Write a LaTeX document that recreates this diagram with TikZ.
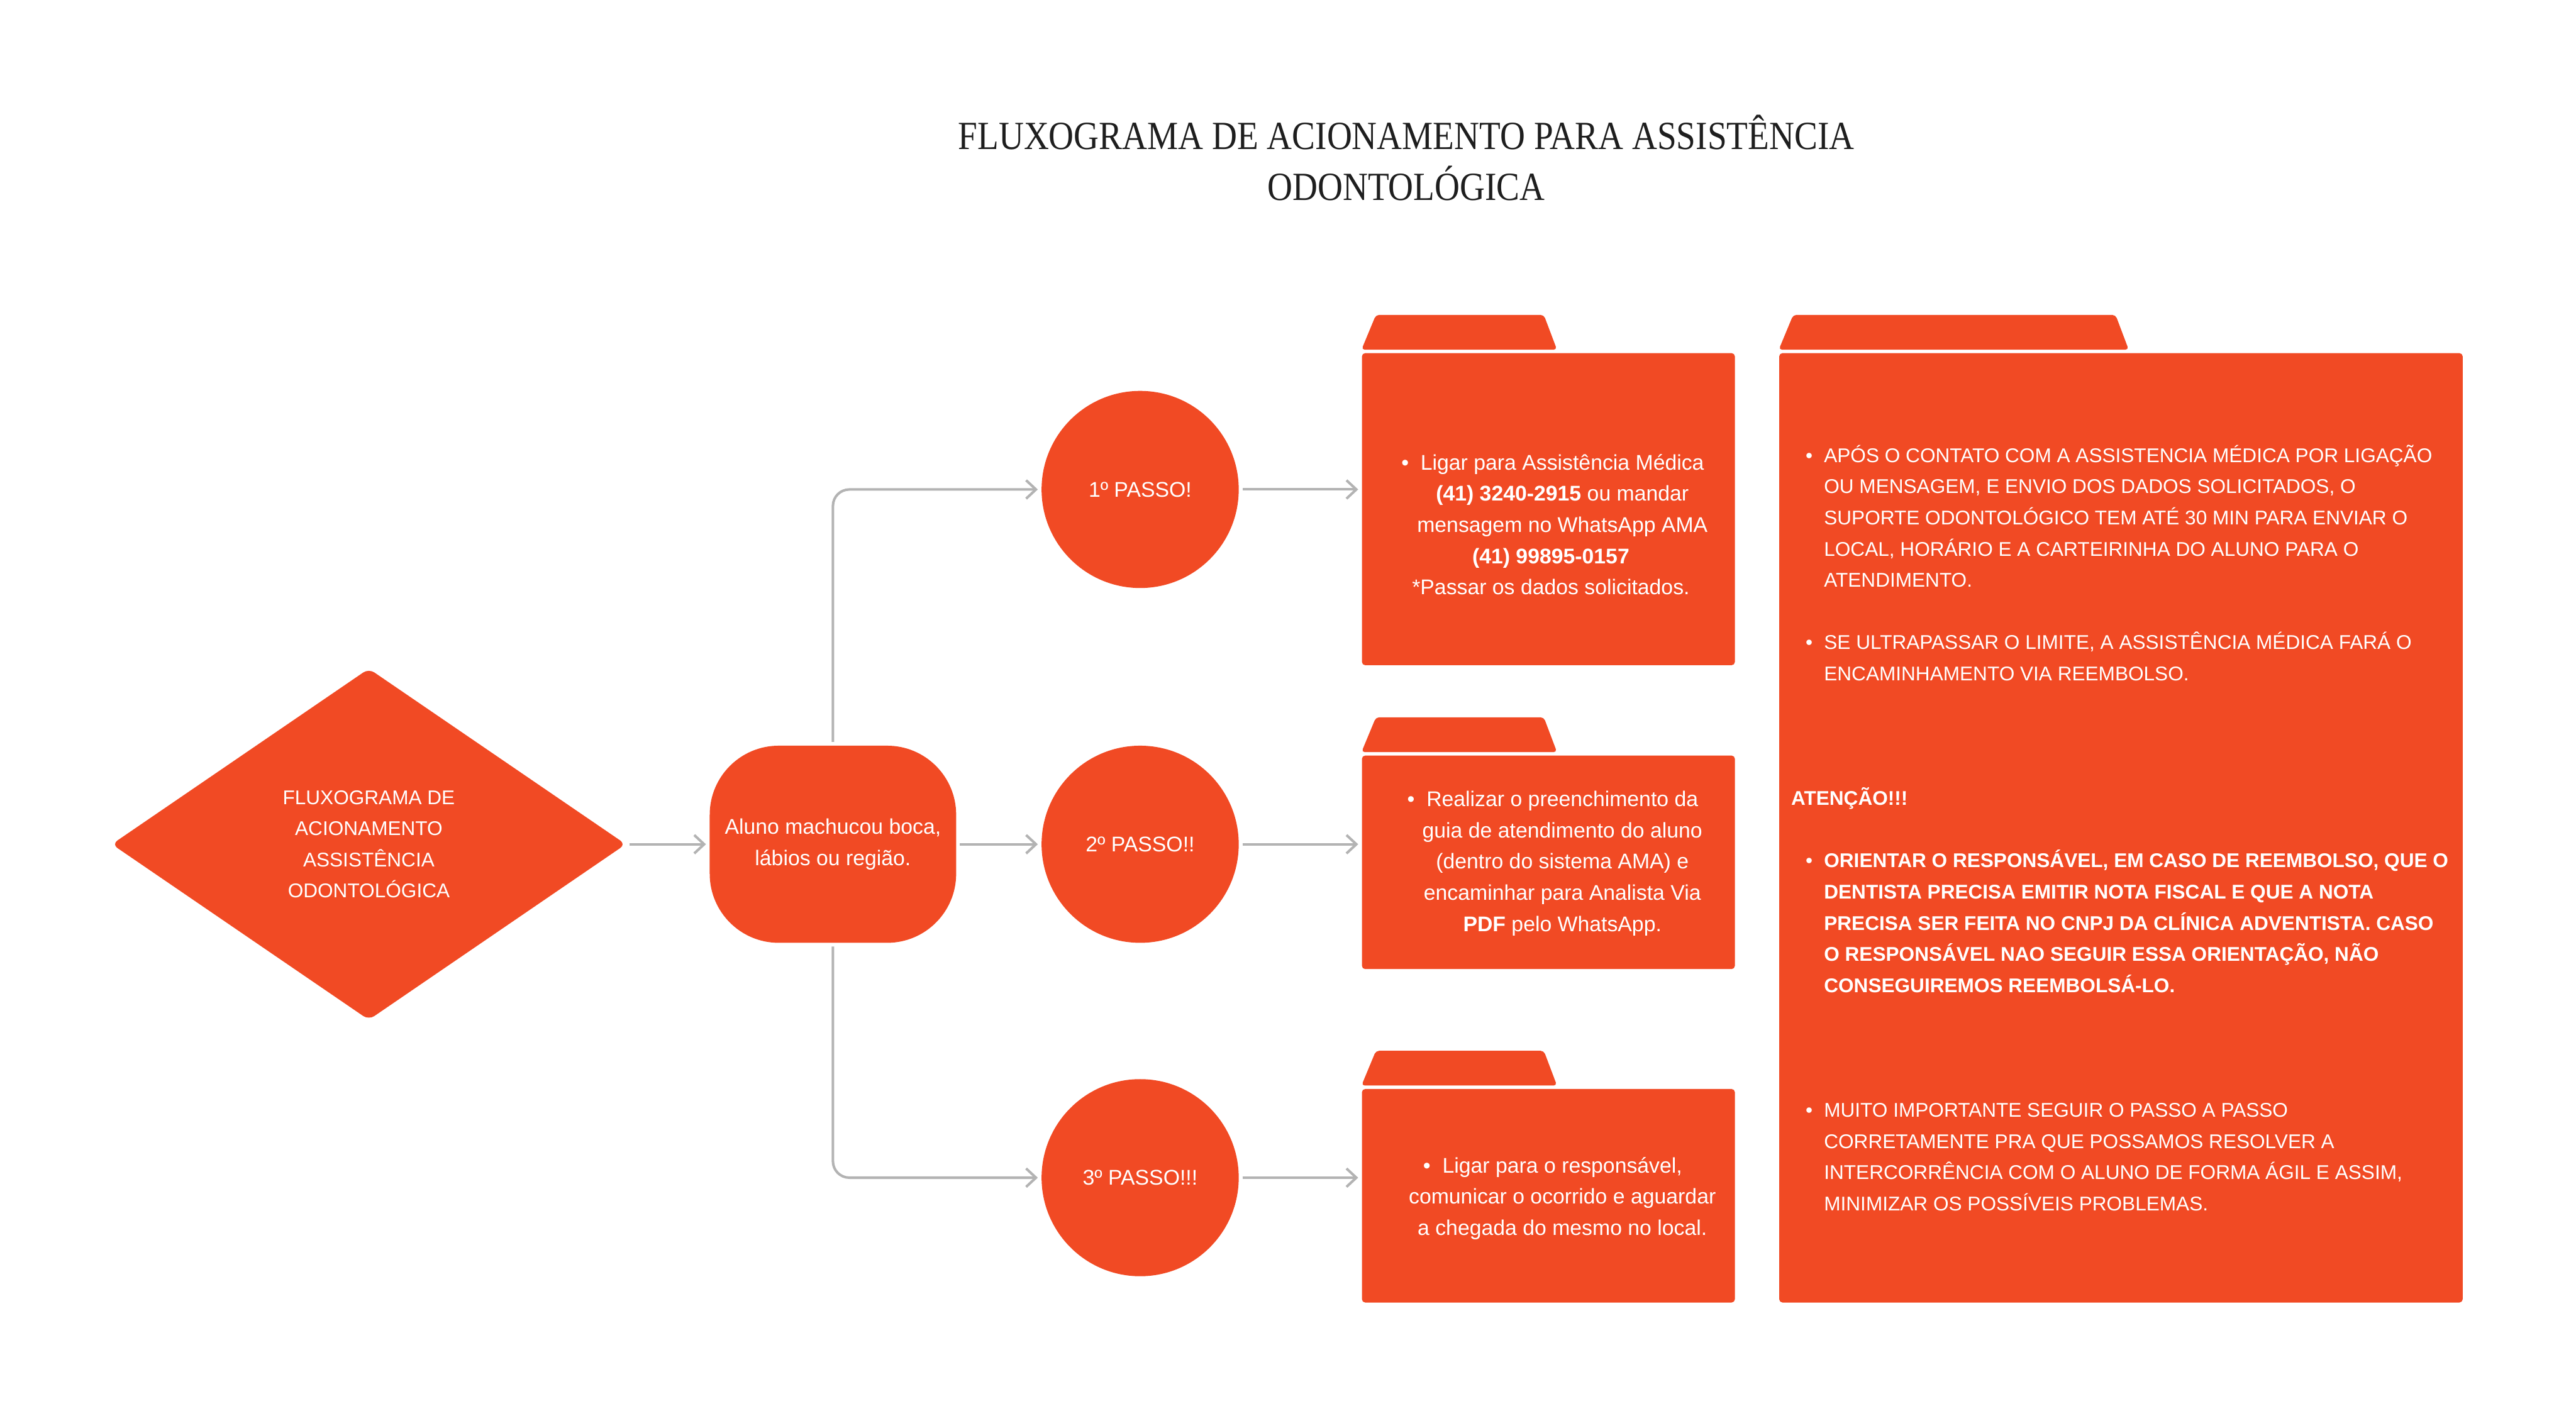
\documentclass[tikz,border=0pt]{standalone}
\usepackage{fontspec}
\usepackage{graphicx}
\setmainfont{Liberation Sans}
\newfontfamily\headfont{Liberation Serif}
\usetikzlibrary{arrows.meta,shapes.geometric}
\definecolor{flowred}{HTML}{F14A24}
\definecolor{linkgray}{HTML}{B3B3B3}
\definecolor{headgray}{HTML}{1E1E1E}
\newcommand{\foldertab}[2]{\fill[flowred,rounded corners=0.5mm] ([yshift=0.45mm]#1.north west) -- ++(2.2mm,5.3mm) -- ++(#2-4.2mm,0mm) -- ++(2mm,-5.3mm) -- cycle;}
\newcommand{\bul}{\llap{\textbullet\hspace{1.8mm}}}
\newcommand{\nitem}{\makebox[5mm][l]{\hspace{2.2mm}\textbullet}}
\newcommand{\ncont}{\makebox[5mm]{}}

\begin{document}
\begin{tikzpicture}[x=0.25mm,y=-0.25mm,
  block/.style={fill=flowred,text=white,inner sep=0pt,align=center,font=\fontsize{9.2}{13.5}\selectfont},
  startbox/.style={block,diamond,minimum width=78.25mm,minimum height=53.5mm,rounded corners=1mm,font=\fontsize{8.6}{13.5}\selectfont},
  taskbox/.style={block,rectangle,minimum width=37.5mm,minimum height=30mm,rounded corners=10.5mm},
  stepcircle/.style={block,circle,minimum size=30mm},
  infobox/.style={fill=flowred,minimum width=56.75mm,rounded corners=0.5mm,inner sep=0pt},
  boxtext/.style={text=white,align=center,inner sep=0pt,font=\fontsize{9.2}{13.5}\selectfont},
  notetext/.style={boxtext,align=left,font=\fontsize{8.6}{13.5}\selectfont},
  link/.style={draw=linkgray,line width=1.1pt,-{Straight Barb[length=1.5mm,width=2.8mm]},shorten <=0.5mm,shorten >=0.5mm}]
\useasboundingbox (0,0) rectangle (1568,862);

% title
\node[text=headgray,align=center,font=\headfont\fontsize{17.3}{22}\selectfont] (heading) at (856,96)
  {\scalebox{0.87}[1]{FLUXOGRAMA DE ACIONAMENTO PARA ASSISTÊNCIA}\\\scalebox{0.87}[1]{ODONTOLÓGICA}};

% flow
\node[startbox] (start) at (224.5,514) {FLUXOGRAMA DE\\ACIONAMENTO\\ASSISTÊNCIA\\ODONTOLÓGICA};
\node[taskbox] (task) at (507,514) {Aluno machucou boca,\\lábios ou região.};
\node[stepcircle] (step1) at (694,298) {1º PASSO!};
\node[stepcircle] (step2) at (694,514) {2º PASSO!!};
\node[stepcircle] (step3) at (694,717) {3º PASSO!!!};

% folders
\node[infobox,minimum height=47.5mm] (info1) at (942.5,310) {};
\node[infobox,minimum height=32.5mm] (info2) at (942.5,525) {};
\node[infobox,minimum height=32.5mm] (info3) at (942.5,728) {};
\node[infobox,minimum width=104mm,minimum height=144.5mm] (note) at (1291,504) {};
\foldertab{info1}{29.75mm}
\foldertab{info2}{29.75mm}
\foldertab{info3}{29.75mm}
\foldertab{note}{53.25mm}

% texts (base = last line)
\node[boxtext,anchor=base] (info1txt) at (951,362) {\bul Ligar para Assistência Médica\\\textbf{(41) 3240-2915} ou mandar\\mensagem no WhatsApp AMA\\\textbf{(41) 99895-0157}\kern3.5mm\\{*}Passar os dados solicitados.\kern3.5mm};
\node[boxtext,anchor=base] (info2txt) at (951,567) {\bul Realizar o preenchimento da\\guia de atendimento do aluno\\(dentro do sistema AMA) e\\encaminhar para Analista Via\\\textbf{PDF} pelo WhatsApp.};
\node[boxtext,anchor=base] (info3txt) at (951,752) {\bul Ligar para o responsável,\\comunicar o ocorrido e aguardar\\a chegada do mesmo no local.};

\node[notetext,anchor=base west] (notetxt) at (1090,737) {%
  \nitem APÓS O CONTATO COM A ASSISTENCIA MÉDICA POR LIGAÇÃO\\
  \ncont OU MENSAGEM, E ENVIO DOS DADOS SOLICITADOS, O\\
  \ncont SUPORTE ODONTOLÓGICO TEM ATÉ 30 MIN PARA ENVIAR O\\
  \ncont LOCAL, HORÁRIO E A CARTEIRINHA DO ALUNO PARA O\\
  \ncont ATENDIMENTO.\\[13.5pt]
  \nitem SE ULTRAPASSAR O LIMITE, A ASSISTÊNCIA MÉDICA FARÁ O\\
  \ncont ENCAMINHAMENTO VIA REEMBOLSO.\\[40.5pt]
  \textbf{ATENÇÃO!!!}\\[13.5pt]
  \nitem\textbf{ORIENTAR O RESPONSÁVEL, EM CASO DE REEMBOLSO, QUE O}\\
  \ncont\textbf{DENTISTA PRECISA EMITIR NOTA FISCAL E QUE A NOTA}\\
  \ncont\textbf{PRECISA SER FEITA NO CNPJ DA CLÍNICA ADVENTISTA. CASO}\\
  \ncont\textbf{O RESPONSÁVEL NAO SEGUIR ESSA ORIENTAÇÃO, NÃO}\\
  \ncont\textbf{CONSEGUIREMOS REEMBOLSÁ-LO.}\\[40.5pt]
  \nitem MUITO IMPORTANTE SEGUIR O PASSO A PASSO\\
  \ncont CORRETAMENTE PRA QUE POSSAMOS RESOLVER A\\
  \ncont INTERCORRÊNCIA COM O ALUNO DE FORMA ÁGIL E ASSIM,\\
  \ncont MINIMIZAR OS POSSÍVEIS PROBLEMAS.};

% connectors
\draw[link] (start) -- (task);
\draw[link] (task) -- (step2);
\draw[link,rounded corners=2.5mm] (task.north) |- (step1);
\draw[link,rounded corners=2.5mm] (task.south) |- (step3);
\draw[link] (step1) -- (step1 -| info1.west);
\draw[link] (step2) -- (step2 -| info2.west);
\draw[link] (step3) -- (step3 -| info3.west);
\end{tikzpicture}
\end{document}
